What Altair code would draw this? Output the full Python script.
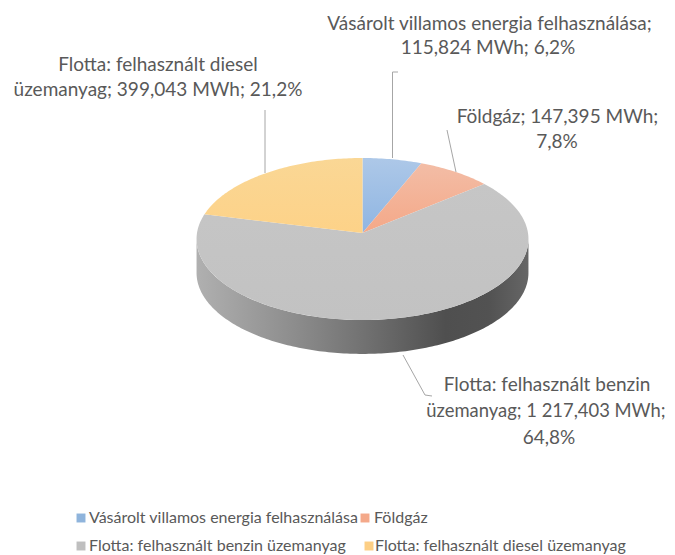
import math
import altair as alt
import pandas as pd

# ---- chart values ----
names = ["Vásárolt villamos energia felhasználása", "Földgáz",
         "Flotta: felhasznált benzin üzemanyag", "Flotta: felhasznált diesel üzemanyag"]
mwh_labels = ["115,824", "147,395", "1 217,403", "399,043"]
shares = [6.2, 7.8, 64.8, 21.2]

# ---- colours ----
slice_tops = ["#adc8e8", "#f3bda6", "#c6c6c6", "#fad795"]
slice_bottoms = ["#8fb5e2", "#f4a888", "#c2c2c2", "#fdd288"]
legend_colors = ["#8fb4dc", "#f4a98a", "#bfbfbf", "#fdcf85"]
TEXT = "#595959"
FONT = "Lato"

# ---- pie view (tilted disc, slight perspective) ----
TILT_K, RATIO, DEPTH = 0.074, 0.4867, 0.205
SCALE, CX, CY = 165.5, 354.5, 225  # view centre of the pie, in plot pixels


def rim(deg):
    t = math.radians(deg)
    u, v = math.sin(t), math.cos(t)
    w = 1 + TILT_K * v
    return [u / w, RATIO * v / w]


def pct(v):
    return f"{v:.1f}%".replace(".", ",")


def feature(name, ring):
    ring = ring + [ring[0]]
    return {"type": "Feature", "properties": {"name": name},
            "geometry": {"type": "Polygon", "coordinates": [ring]}}


def geo(features):
    return alt.InlineData(values={"type": "FeatureCollection", "features": features},
                          format=alt.DataFormat(property="features", type="json"))


proj = dict(type="identity", scale=SCALE, translate=[CX, CY], reflectY=True)


def gradient(stops, horizontal=True):
    return alt.LinearGradient(
        gradient="linear",
        stops=[alt.GradientStop(color=c, offset=o) for c, o in stops],
        x1=0, y1=0, x2=1 if horizontal else 0, y2=0 if horizontal else 1,
    )


# side wall
circle = [rim(d) for d in range(0, 360)]
right = max(range(360), key=lambda d: circle[d][0])
left = min(range(360), key=lambda d: circle[d][0])
front = [circle[d] for d in range(right, left + 1)]
wall_ring = [[p[0], p[1]] for p in front] + [[p[0], p[1] - DEPTH] for p in reversed(front)]
wall = alt.Chart(geo([feature("wall", wall_ring)])).mark_geoshape(
    strokeWidth=0,
    fill=gradient([("#b0b0b0", 0), ("#8c8c8c", 0.3), ("#727272", 0.5), ("#4f4f4f", 0.75),
                   ("#525252", 0.88), ("#666666", 1)]),
).project(**proj)

# slices
layers = [wall]
start = 0.0
for name, share, top, bottom in zip(names, shares, slice_tops, slice_bottoms):
    end = start + share * 3.6
    steps = max(2, int(share * 3.6))
    ring = [[0.0, 0.0]] + [rim(start + (end - start) * i / steps) for i in range(steps + 1)]
    layers.append(
        alt.Chart(geo([feature(name, ring)])).mark_geoshape(
            strokeWidth=0, fill=gradient([(top, 0), (bottom, 1)], horizontal=False)
        ).project(**proj)
    )
    start = end

# ---- leader lines (plot pixels) ----
leaders = pd.DataFrame([
    {"id": 0, "o": 0, "x": 390, "y": 64}, {"id": 0, "o": 1, "x": 384.5, "y": 64}, {"id": 0, "o": 2, "x": 384.5, "y": 150},
    {"id": 1, "o": 0, "x": 439, "y": 122}, {"id": 1, "o": 1, "x": 448, "y": 164},
    {"id": 2, "o": 0, "x": 395, "y": 347}, {"id": 2, "o": 1, "x": 417, "y": 387}, {"id": 2, "o": 2, "x": 424, "y": 388},
    {"id": 3, "o": 0, "x": 257, "y": 102}, {"id": 3, "o": 1, "x": 257, "y": 165},
])
layers.append(
    alt.Chart(leaders).mark_line(color="#a6a6a6", strokeWidth=1).encode(
        x=alt.X("x:Q", scale=None, axis=None), y=alt.Y("y:Q", scale=None, axis=None),
        detail="id:N", order="o:Q",
    )
)

# ---- data labels ----
label_rows = [
    (names[0] + ";", 481.5, 16, 19), (f"{mwh_labels[0]} MWh; {pct(shares[0])}", 480, 40, 19),
    (f"{names[1]}; {mwh_labels[1]} MWh;", 549.5, 109, 19), (pct(shares[1]), 549, 134, 19),
    ("Flotta: felhasznált benzin", 539, 377, 19), (f"üzemanyag; {mwh_labels[2]} MWh;", 538, 403, 18.4),
    (pct(shares[2]), 541, 430, 19),
    ("Flotta: felhasznált diesel", 150, 57, 19),
    (f"üzemanyag; {mwh_labels[3]} MWh; {pct(shares[3])}", 150, 82, 19),
]
labels = pd.DataFrame(label_rows, columns=["t", "x", "y", "s"])
layers.append(
    alt.Chart(labels).mark_text(font=FONT, color=TEXT, align="center", baseline="middle").encode(
        x=alt.X("x:Q", scale=None, axis=None), y=alt.Y("y:Q", scale=None, axis=None), text="t:N",
        size=alt.Size("s:Q", scale=None, legend=None),
    )
)

# ---- legend ----
legend_rows = pd.DataFrame({
    "name": names,
    "c": legend_colors,
    "mx": [73, 357, 73, 361],
    "tx": [81, 366, 81, 367],
    "y": [510, 510, 538, 538],
})
layers.append(
    alt.Chart(legend_rows).mark_square(size=80, opacity=1).encode(
        x=alt.X("mx:Q", scale=None, axis=None), y=alt.Y("y:Q", scale=None, axis=None),
        color=alt.Color("c:N", scale=None, legend=None),
    )
)
layers.append(
    alt.Chart(legend_rows).mark_text(font=FONT, fontSize=16, color=TEXT, align="left", baseline="middle").encode(
        x=alt.X("tx:Q", scale=None, axis=None), y=alt.Y("y:Q", scale=None, axis=None), text="name:N"
    )
)

chart = alt.layer(*layers).properties(
    width=659, height=547, padding=0, background="white", autosize=alt.AutoSizeParams(type="none"),
).configure_view(stroke=None)

chart.save("out.html", embed_options={"renderer": "svg", "actions": False})
